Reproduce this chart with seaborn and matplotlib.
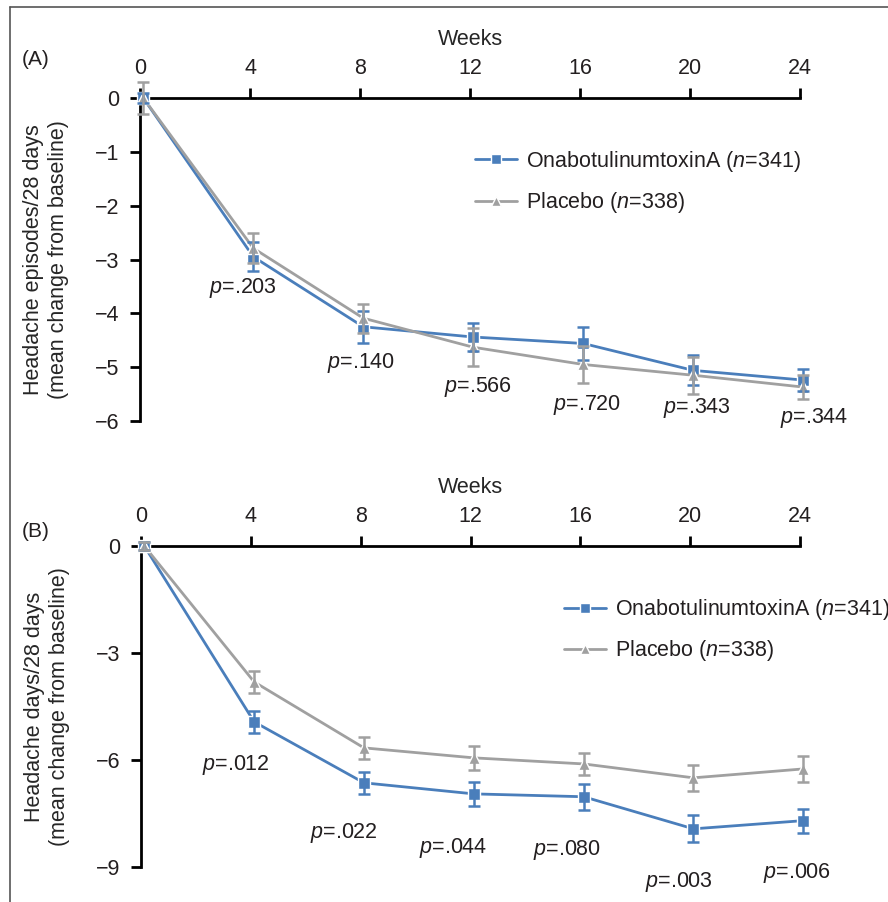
import numpy as np
import pandas as pd
import matplotlib
matplotlib.use('Agg')
import matplotlib.pyplot as plt
import seaborn as sns
from matplotlib.lines import Line2D

weeks = [0, 4, 8, 12, 16, 20, 24]
groups = ['OnabotulinumtoxinA ($n$=341)', 'Placebo ($n$=338)']

# (A) headache episodes / 28 days
a_bot = [0, -2.95, -4.25, -4.44, -4.56, -5.06, -5.24]
a_bot_err = [0.10, 0.27, 0.30, 0.26, 0.31, 0.28, 0.20]
a_pla = [0, -2.79, -4.09, -4.63, -4.95, -5.15, -5.37]
a_pla_err = [0.30, 0.28, 0.27, 0.35, 0.35, 0.34, 0.23]
a_pvals = ['.203', '.140', '.566', '.720', '.343', '.344']

# (B) headache days / 28 days
b_bot = [0, -4.93, -6.64, -6.95, -7.03, -7.93, -7.70]
b_bot_err = [0.10, 0.30, 0.31, 0.34, 0.36, 0.38, 0.34]
b_pla = [0, -3.81, -5.66, -5.94, -6.11, -6.50, -6.25]
b_pla_err = [0.10, 0.30, 0.31, 0.34, 0.32, 0.37, 0.37]
b_pvals = ['.012', '.022', '.044', '.080', '.003', '.006']

sns.set_theme(style='white')
plt.rcParams['font.family'] = ['Liberation Sans', 'DejaVu Sans']
plt.rcParams['mathtext.fontset'] = 'custom'
plt.rcParams['mathtext.it'] = 'Liberation Sans:italic'
plt.rcParams['mathtext.rm'] = 'Liberation Sans'
plt.rcParams['text.color'] = '#231f20'

blue = '#4a7ebb'
grey = '#a0a0a0'
fs = 15.5

fig = plt.figure(figsize=(8.88, 9.02), dpi=100)
W, H = 888, 902
def box(l, r, t, b):
    return [l / W, 1 - b / H, (r - l) / W, (b - t) / H]

axA = fig.add_axes(box(140, 800, 98, 421))
axB = fig.add_axes(box(141, 800, 546, 867))

# label positions of the p-values (weeks, y)
a_ppos = [(3.75, -3.53), (8.05, -4.93), (12.3, -5.37), (16.25, -5.71), (20.25, -5.76), (24.5, -5.95)]
b_ppos = [(3.45, -6.13), (7.4, -8.04), (11.36, -8.46), (15.5, -8.52), (19.6, -9.41), (23.9, -9.16)]

def panel(ax, bot, bot_err, pla, pla_err, pvals, ppos, ylim, yticks, ylabel, tag, tag_xy, leg_xy):
    shift = 0.12
    x = np.array(weeks) + shift
    df = pd.DataFrame({'week': np.concatenate([x, x]),
                       'value': bot + pla,
                       'group': [groups[0]] * len(weeks) + [groups[1]] * len(weeks)})
    sns.lineplot(data=df, x='week', y='value', hue='group', style='group',
                 palette=[blue, grey], markers=['s', '^'], dashes=False,
                 linewidth=2, markersize=8.5, markeredgecolor='white', markeredgewidth=1.0,
                 ax=ax, clip_on=False, zorder=3)
    for vals, err, c in [(bot, bot_err, blue), (pla, pla_err, grey)]:
        ax.errorbar(x, vals, yerr=err, fmt='none', ecolor=c, elinewidth=1.8,
                    capsize=4, capthick=1.8, clip_on=False, zorder=4)
    for t, (px, py) in zip(pvals, ppos):
        ax.text(px, py, '$p$=' + t, ha='center', va='center', fontsize=fs)

    ax.set_xlim(0, 24)
    ax.set_ylim(*ylim)
    ax.set_xticks(weeks)
    ax.set_yticks(yticks)
    ax.xaxis.tick_top()
    ax.xaxis.set_label_position('top')
    ax.set_xlabel('Weeks', fontsize=fs, labelpad=9)
    ax.set_ylabel(ylabel, fontsize=fs, linespacing=1.25, va='center')
    ax.yaxis.set_label_coords(-0.142, 0.5)
    for s in ['right', 'bottom']:
        ax.spines[s].set_visible(False)
    for s in ['top', 'left']:
        ax.spines[s].set_color('black')
        ax.spines[s].set_linewidth(2)
    ax.tick_params(axis='both', which='major', labelsize=fs, direction='out',
                   length=7, width=2, color='black', colors='#231f20')
    ax.tick_params(axis='x', pad=7, top=True, bottom=False)
    ax.tick_params(axis='y', pad=8, left=True)
    ax.set_facecolor('none')

    handles, labels = ax.get_legend_handles_labels()
    ax.legend(handles, labels, loc='upper left', bbox_to_anchor=leg_xy, frameon=False,
              fontsize=fs, borderpad=0, borderaxespad=0, handlelength=1.95, handletextpad=0.4,
              labelspacing=0.75, markerscale=0.9)
    ax.text(tag_xy[0], tag_xy[1], tag, transform=ax.transAxes, fontsize=fs - 0.5,
            ha='left', va='center')

panel(axA, a_bot, a_bot_err, a_pla, a_pla_err, a_pvals, a_ppos, (-6, 0), [0, -1, -2, -3, -4, -5, -6],
      'Headache episodes/28 days\n(mean change from baseline)', '(A)', (-0.179, 1.118), (0.508, 0.842))
panel(axB, b_bot, b_bot_err, b_pla, b_pla_err, b_pvals, b_ppos, (-9, 0), [0, -3, -6, -9],
      'Headache days/28 days\n(mean change from baseline)', '(B)', (-0.181, 1.044), (0.642, 0.841))

# frame lines on the left and top of the figure
fig.add_artist(Line2D([10 / W, 10 / W], [0, 1 - 7 / H], transform=fig.transFigure, color='#555555', lw=1.2))
fig.add_artist(Line2D([10 / W, 1], [1 - 7 / H, 1 - 7 / H], transform=fig.transFigure, color='#555555', lw=1.2))

fig.savefig('out.png', dpi=100)
